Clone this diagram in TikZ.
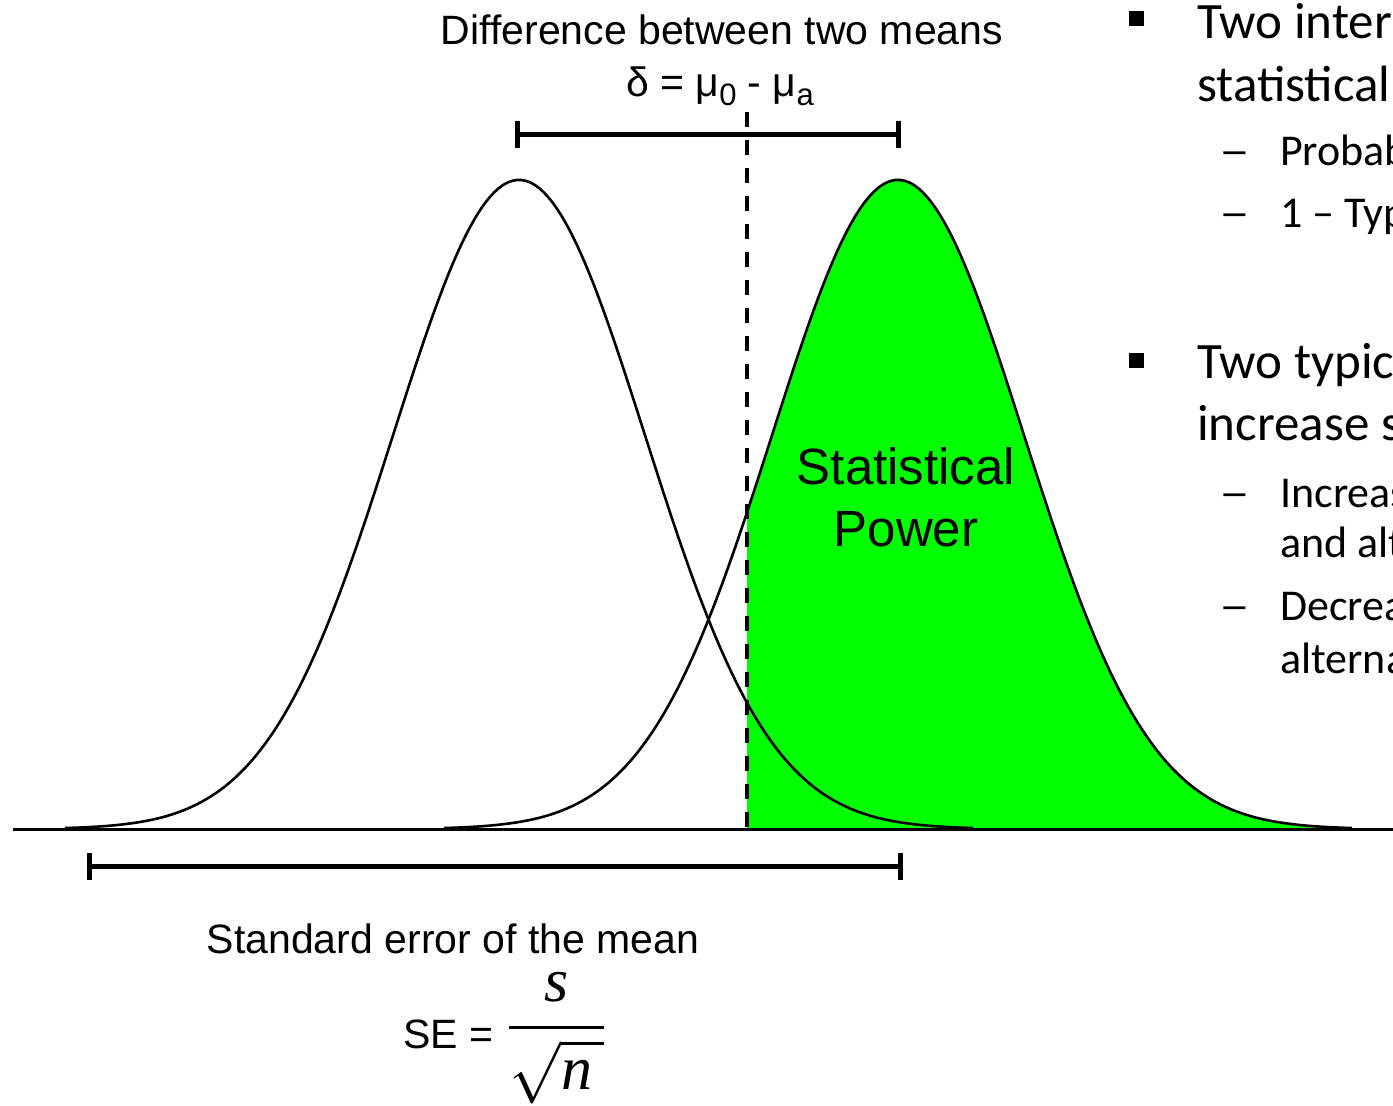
\RequirePackage{fix-cm}
\documentclass[tikz,border=0pt]{standalone}
\usepackage{amsmath}
\usepackage{graphicx}
\usepackage{fontspec}
\setmainfont{Liberation Sans}
\newfontfamily\timesfont{Liberation Serif}
\newfontfamily\slidefont{Carlito}
\usepackage{tikz}
\usetikzlibrary{arrows.meta}
\usetikzlibrary{positioning}

\definecolor{powergreen}{RGB}{0,255,0}
\newcommand{\lowsub}[1]{\raisebox{-9pt}{\fontsize{31}{31}\selectfont #1}}
\newcommand{\itemdash}{\scalebox{1.4}[1]{–}}

\begin{document}
\begin{tikzpicture}[x=1pt, y=-1pt,
		declare function={gauss(\x,\m)=829-649*exp(-0.5*((\x-\m)/126)^2);},
		curve/.style={line width=2.6pt, line join=round},
		bar/.style={line width=5pt, {Bar[width=27pt,line width=5pt]-Bar[width=27pt,line width=5pt]}},
		meanline/.style={line width=4.5pt, dash pattern=on 15pt off 13pt},
		label/.style={font=\fontsize{41}{41}\selectfont, anchor=base, inner sep=0pt},
		powertext/.style={font=\fontsize{51}{51}\selectfont, anchor=base, inner sep=0pt},
		mainitem/.style={font=\slidefont\fontsize{51}{51}\selectfont, anchor=base west, inner sep=0pt},
		subitem/.style={font=\slidefont\fontsize{44}{44}\selectfont, anchor=base west, inner sep=0pt},
		square/.style={rectangle, fill=black, inner sep=0pt, minimum size=15pt}]

				\useasboundingbox (0,0) rectangle (1393,1106);
				\clip (0,0) rectangle (1393,1106);

				% ends of lines
				\coordinate (axl) at (13,829);
				\coordinate (axr) at (1393,829);
				\coordinate (dtop) at (747,112);
				\coordinate (dbot) at (747,829);
				\coordinate (dl) at (515,134);
				\coordinate (dr) at (901,134);
				\coordinate (sl) at (87,866);
				\coordinate (sr) at (903,866);

				% power area
				\fill[powergreen] (dbot) -- plot[domain=747:1352, samples=150] (\x,{gauss(\x,898)}) -- (1352,829) -- cycle;

				% curves
				\draw[curve] plot[domain=65:973, samples=200] (\x,{gauss(\x,519)});
				\draw[curve] plot[domain=444:1352, samples=200] (\x,{gauss(\x,898)});
				\draw[line width=3pt] (axl) -- (axr);
				\draw[meanline] (dtop) -- (dbot);

				% bars
				\draw[bar] (dl) -- (dr);
				\draw[bar] (sl) -- (sr);

				% labels
				\node[label] (difftitle) at (722,44) {Difference between two means};
				\node[label] (deltaeq) at (720,96) {δ = μ\lowsub{0} - μ\lowsub{a}};
				\node[powertext] (powertop) at (906,484) {Statistical};
				\node[powertext] (powerbot) at (906,546) {Power};
				\node[label] (semtitle) at (453,953) {Standard error of the mean};
				\node[label, anchor=base west] (se) at (403,1048) {SE =};
				\node[anchor=base west, inner sep=0pt, font=\fontsize{62}{62}\selectfont] (sefrac) at (508,1043)
					{$\genfrac{}{}{3.5pt}{0}{\text{\timesfont\itshape s}}{\sqrt{\text{\timesfont\itshape n}\kern12pt}}$};

				% slide text
				\node[square] (sq1) at (1136,18) {};
				\node[mainitem] (b1a) at (1197,38) {Two inter};
				\node[mainitem] (b1b) at (1197,101) {statistical};
				\node[subitem] (d1a) at (1219,165) {\itemdash};
				\node[subitem] (s1a) at (1280,165) {Probab};
				\node[subitem] (d1b) at (1219,227) {\itemdash};
				\node[subitem] (s1b) at (1280,227) {1 – Typ};
				\node[square] (sq2) at (1136,360) {};
				\node[mainitem] (b2a) at (1197,378) {Two typic};
				\node[mainitem] (b2b) at (1197,440) {increase s};
				\node[subitem] (d2a) at (1219,507) {\itemdash};
				\node[subitem] (s2a) at (1280,507) {Increas};
				\node[subitem] (s2b) at (1280,557) {and alt};
				\node[subitem] (d2b) at (1219,620) {\itemdash};
				\node[subitem] (s2c) at (1280,620) {Decrea};
				\node[subitem] (s2d) at (1280,673) {alterna};
			\end{tikzpicture}
\end{document}
